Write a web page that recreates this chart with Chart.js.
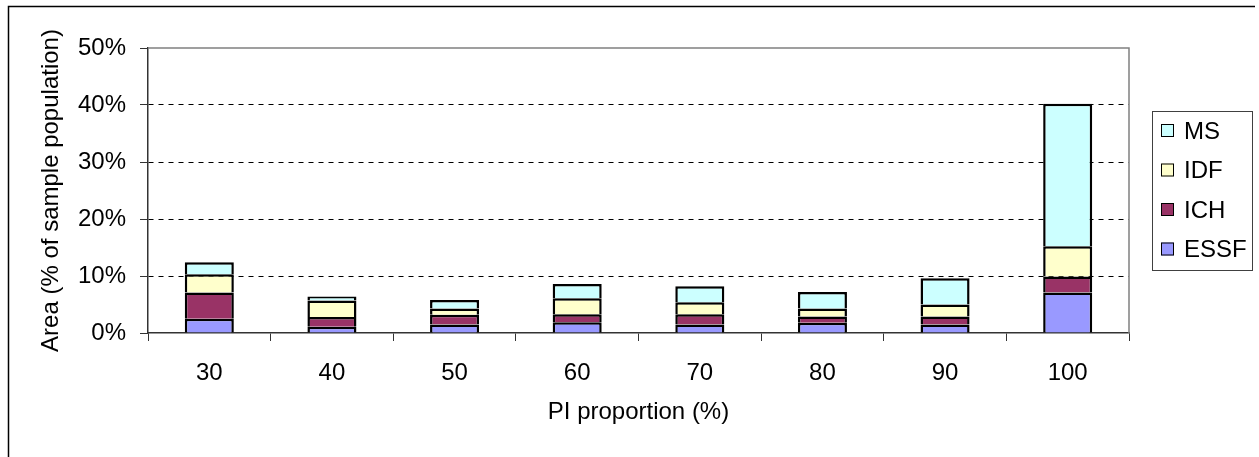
<!DOCTYPE html>
<html>
<head>
<meta charset="utf-8">
<script src="https://cdn.jsdelivr.net/npm/chart.js@4.4.1/dist/chart.umd.min.js"></script>
<style>
  html, body { margin: 0; padding: 0; background: #fff; }
  #wrap { position: relative; width: 1259px; height: 457px; }
</style>
</head>
<body>
<div id="wrap"><canvas id="chart" width="1259" height="457"></canvas></div>
<script>
//  DATA (percent of sample population)
var categories = ["30", "40", "50", "60", "70", "80", "90", "100"];
var essf = [2.5, 1.1, 1.5, 1.9, 1.5, 1.8, 1.5, 7.1];
var ich = [4.6, 1.7, 1.7, 1.4, 1.8, 1.1, 1.4, 2.8];
var idf = [3.2, 2.9, 1.1, 2.8, 2.1, 1.4, 2.1, 5.3];
var ms = [2.1, 0.7, 1.5, 2.5, 2.8, 2.9, 4.6, 25.0];
var yTicks = [0, 10, 20, 30, 40, 50];

var FONT = { family: "'Liberation Sans', Arial, sans-serif", size: 24 };

function makeSet(label, data, color) {
  return {
    label: label,
    data: data,
    backgroundColor: color,
    borderColor: "#000",
    borderWidth: 2.5,
    borderSkipped: "start",
    barPercentage: 0.4,
    categoryPercentage: 1.0,
  };
}

//  FRAME + PLOT BORDER
var framePlugin = {
  id: "frame",
  beforeDatasetsDraw: function (chart) {
    var ctx = chart.ctx;
    var a = chart.chartArea;
    ctx.save();
    ctx.strokeStyle = "#808080";
    ctx.lineWidth = 1.5;
    ctx.beginPath();
    ctx.moveTo(a.left, a.top);
    ctx.lineTo(a.right, a.top);
    ctx.lineTo(a.right, a.bottom);
    ctx.stroke();
    ctx.restore();
  },
  afterDraw: function (chart) {
    var ctx = chart.ctx;
    ctx.save();
    ctx.strokeStyle = "#000";
    ctx.lineWidth = 1.5;
    ctx.beginPath();
    ctx.moveTo(8.5, 457);
    ctx.lineTo(8.5, 6.5);
    ctx.lineTo(1255, 6.5);
    ctx.stroke();
    ctx.restore();
  },
};

//  LEGEND (boxed, top entry = last dataset)
var legendPlugin = {
  id: "boxLegend",
  afterDraw: function (chart) {
    var ctx = chart.ctx;
    var sets = chart.data.datasets;
    var x0 = 1152, y0 = 111, w = 100, h = 159;
    ctx.save();
    ctx.strokeStyle = "#404040";
    ctx.lineWidth = 1;
    ctx.strokeRect(x0 + 0.5, y0 + 0.5, w, h);
    ctx.font = FONT.size + "px " + FONT.family;
    ctx.textBaseline = "middle";
    ctx.textAlign = "left";
    for (var i = 0; i < sets.length; i++) {
      var ds = sets[sets.length - 1 - i];
      var cy = 131 + i * 39.5;
      ctx.fillStyle = ds.backgroundColor;
      ctx.fillRect(1161, cy - 7, 13, 13);
      ctx.strokeStyle = "#000";
      ctx.strokeRect(1161.5, cy - 6.5, 12, 12);
      ctx.fillStyle = "#000";
      ctx.fillText(ds.label, 1184, cy + 1);
    }
    ctx.restore();
  },
};

//  CHART
new Chart(document.getElementById("chart"), {
  type: "bar",
  data: {
    labels: categories,
    datasets: [
      makeSet("ESSF", essf, "#9999FF"),
      makeSet("ICH", ich, "#993366"),
      makeSet("IDF", idf, "#FFFFCC"),
      makeSet("MS", ms, "#CCFFFF"),
    ],
  },
  options: {
    responsive: false,
    animation: false,
    layout: { padding: { left: 0, right: 130, top: 48, bottom: 0 } },
    plugins: {
      legend: { display: false },
      tooltip: { enabled: false },
    },
    scales: {
      x: {
        stacked: true,
        offset: true,
        grid: {
          display: true,
          offset: true,
          drawOnChartArea: false,
          drawTicks: true,
          tickLength: 8,
          color: "#333",
        },
        border: { display: true, color: "#333", width: 1.5 },
        ticks: { color: "#000", font: FONT, padding: 18, maxRotation: 0 },
        title: {
          display: true,
          text: "PI proportion (%)",
          color: "#000",
          font: FONT,
          padding: { top: 0, bottom: 30 },
        },
        afterFit: function (s) {
          s.height = 124;
        },
      },
      y: {
        stacked: true,
        min: yTicks[0],
        max: yTicks[yTicks.length - 1],
        grid: {
          color: function (c) {
            var v = c.tick ? c.tick.value : null;
            return v === yTicks[0] || v === yTicks[yTicks.length - 1]
              ? "rgba(0,0,0,0)"
              : "#000";
          },
          tickColor: "#333",
          tickLength: 8,
          tickBorderDash: [1, 0],
        },
        border: { display: true, color: "#333", width: 1.5, dash: [5, 5] },
        ticks: {
          stepSize: yTicks[1] - yTicks[0],
          color: "#000",
          font: FONT,
          padding: 14,
          callback: function (v) {
            return v + "%";
          },
        },
        title: {
          display: true,
          text: "Area (% of sample population)",
          color: "#000",
          font: FONT,
          padding: { top: 37, bottom: 0 },
        },
        afterFit: function (s) {
          s.width = 148;
        },
      },
    },
  },
  plugins: [framePlugin, legendPlugin],
});
</script>
</body>
</html>
